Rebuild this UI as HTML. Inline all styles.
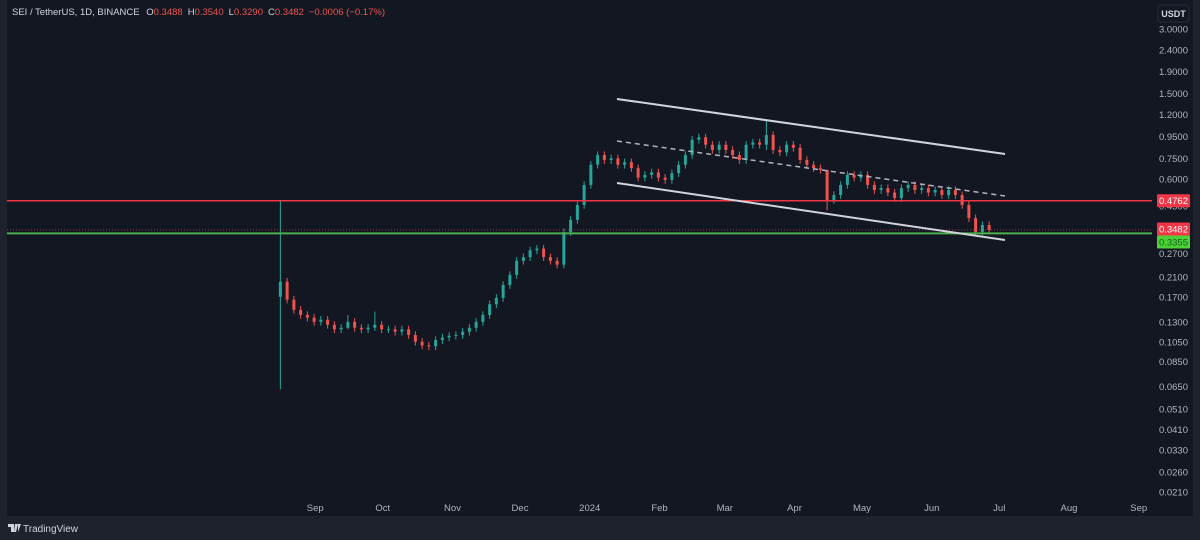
<!DOCTYPE html>
<html><head><meta charset="utf-8">
<style>
html,body{margin:0;padding:0;background:#1e222d;}
body{width:1200px;height:540px;position:relative;overflow:hidden;font-family:"Liberation Sans",sans-serif;}
#panel{position:absolute;left:7px;top:0;width:1186px;height:516px;background:#131722;}
svg{position:absolute;left:0;top:0;}
</style></head>
<body>
<div id="panel"></div>
<svg id="chart" width="1200" height="540"></svg>
<script>
const closes=[0.2,0.165,0.148,0.14,0.136,0.13,0.133,0.126,0.12,0.122,0.13,0.122,0.12,0.122,0.126,0.12,0.12,0.117,0.12,0.113,0.105,0.101,0.1,0.107,0.11,0.112,0.113,0.117,0.122,0.13,0.14,0.157,0.168,0.193,0.215,0.25,0.26,0.28,0.285,0.26,0.25,0.24,0.34,0.388,0.455,0.564,0.70,0.777,0.737,0.75,0.70,0.72,0.675,0.61,0.628,0.645,0.61,0.595,0.64,0.70,0.777,0.915,0.94,0.868,0.82,0.868,0.82,0.777,0.737,0.868,0.89,0.868,0.963,0.82,0.8,0.868,0.84,0.737,0.70,0.675,0.663,0.48,0.506,0.564,0.628,0.61,0.628,0.564,0.534,0.545,0.52,0.49,0.545,0.564,0.534,0.545,0.52,0.534,0.506,0.534,0.506,0.455,0.395,0.34,0.367,0.3482];
const firstOpen=[0.17];
const spikeIdx=[0,10,14,72,81];
const spikeHigh=[0.4762,0.14,0.145,1.13,0.5];
const spikeLow=[0.063,0.12,0.118,0.82,0.43];
const yTicks=[3.0,2.4,1.9,1.5,1.2,0.95,0.75,0.6,0.45,0.27,0.21,0.17,0.13,0.105,0.085,0.065,0.051,0.041,0.033,0.026,0.021];
const months=["Sep","Oct","Nov","Dec","2024","Feb","Mar","Apr","May","Jun","Jul","Aug","Sep"];
const monthDay=[17,47,78,108,139,170,199,230,260,291,321,352,383];
const levels=[0.4762,0.3355];

const NS="http://www.w3.org/2000/svg";
const svg=document.getElementById('chart');
const yOf=p=>29+93.3*Math.log(3/p);
const xOfDay=d=>277+d*2.25;
function mk(tag,attrs,parent){const e=document.createElementNS(NS,tag);for(const k in attrs)e.setAttribute(k,attrs[k]);(parent||svg).appendChild(e);return e;}

const cg=mk('g',{});


closes.forEach((c,i)=>{
  const o=i===0?firstOpen[0]:closes[i-1];
  let h=Math.max(o,c)*1.04,l=Math.min(o,c)*0.96;
  const k=spikeIdx.indexOf(i);
  if(k>=0){h=spikeHigh[k];l=spikeLow[k];}
  const col=c>=o?'#26a69a':'#ef5350';
  const x=xOfDay(i*3+1.5);
  const g=mk('g',{},cg);
  
  
  mk('line',{x1:x,x2:x,y1:yOf(h),y2:yOf(l),stroke:col,'stroke-width':1},g);
  const y1=yOf(Math.max(o,c)),y2=yOf(Math.min(o,c));
  mk('rect',{x:x-1.5,y:y1,width:3,height:Math.max(1,y2-y1),fill:col},g);
});

const red=mk('line',{x1:7,x2:1152,y1:yOf(levels[0]),y2:yOf(levels[0]),stroke:'#f23645','stroke-width':1.5});


const grn=mk('line',{x1:7,x2:1152,y1:yOf(levels[1]),y2:yOf(levels[1]),stroke:'#4caf50','stroke-width':2});


const cur=mk('line',{x1:7,x2:1152,y1:yOf(closes[closes.length-1]),y2:yOf(closes[closes.length-1]),stroke:'#ef5350','stroke-width':1,'stroke-dasharray':'1 2','opacity':0.6});



const up=mk('line',{x1:617,y1:99,x2:1005,y2:154,stroke:'#d1d4dc','stroke-width':2});


const mid=mk('line',{x1:617,y1:141,x2:1005,y2:196,stroke:'#b2b5be','stroke-width':1.5,'stroke-dasharray':'5 4'});


const lo=mk('line',{x1:617,y1:183,x2:1005,y2:240,stroke:'#d1d4dc','stroke-width':2});



yTicks.forEach(v=>{
  const t=mk('text',{x:1188,y:yOf(v)+3.5,'text-anchor':'end','font-size':9.5,fill:'#b2b5be'});
  t.textContent=v.toFixed(4);
  
  
});
function tag(v,y,bg,fg,name){
  const g=mk('g',{});
  
  
  mk('rect',{x:1157,y:y-6.5,width:33,height:13,fill:bg,rx:1},g);
  const t=mk('text',{x:1188,y:y+3.5,'text-anchor':'end','font-size':9.5,fill:fg},g);
  t.textContent=v.toFixed(4);
}
tag(levels[0],yOf(levels[0]),'#f23645','#fff','resistance-price-tag');
tag(closes[closes.length-1],229,'#f23645','#fff','last-price-tag');
tag(levels[1],242,'#4cd137','#1b5e20','support-price-tag');

const ub=mk('g',{});


mk('rect',{x:1158,y:5,width:31,height:17,rx:3,fill:'#131722',stroke:'#2a2e39'},ub);
const ut=mk('text',{x:1173.5,y:17,'text-anchor':'middle','font-size':9,'font-weight':'bold',fill:'#d1d4dc'},ub);
ut.textContent='USDT';

months.forEach((m,i)=>{
  const t=mk('text',{x:xOfDay(monthDay[i]),y:511,'text-anchor':'middle','font-size':9.5,fill:'#b2b5be'});
  t.textContent=m;
  
  
});

const hd=mk('text',{x:12,y:15,'font-size':9.5,fill:'#d1d4dc'});


hd.innerHTML='SEI / TetherUS, 1D, BINANCE <tspan dx="4">O</tspan><tspan fill="#ef5350">0.3488</tspan><tspan dx="5">H</tspan><tspan fill="#ef5350">0.3540</tspan><tspan dx="5">L</tspan><tspan fill="#ef5350">0.3290</tspan><tspan dx="5">C</tspan><tspan fill="#ef5350">0.3482</tspan><tspan dx="5" fill="#ef5350">−0.0006 (−0.17%)</tspan>';

const lg=mk('g',{});


mk('path',{d:'M8 524h6v8h-3v-5h-3zM15 524h3l-2 8h-2zM18 524h3l-3 8z',fill:'#d1d4dc'},lg);
const lt=mk('text',{x:23,y:532,'font-size':10,fill:'#d1d4dc'},lg);
lt.textContent='TradingView';
</script>
</body></html>
